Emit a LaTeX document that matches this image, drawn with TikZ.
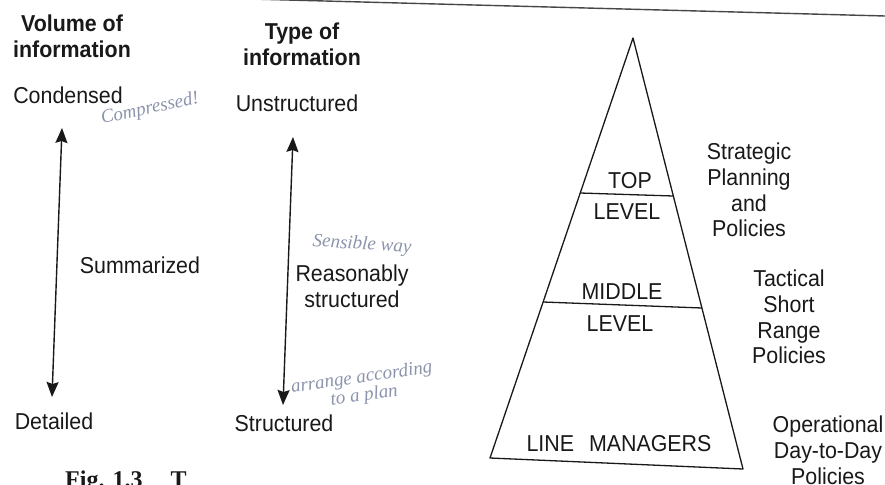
\documentclass[tikz,border=0pt]{standalone}
\usepackage{fontspec}
\setmainfont{Liberation Sans}[FakeStretch=0.93]
\newfontfamily\handfont{Liberation Serif}
\newfontfamily\capfont{Liberation Serif}
\usetikzlibrary{arrows.meta}
\definecolor{ink}{RGB}{25,25,25}
\definecolor{pencil}{RGB}{140,148,172}
\begin{document}
\begin{tikzpicture}[x=1pt,y=-1pt,
  txt/.style={font=\fontsize{23}{26}\selectfont, text=ink, align=center, inner sep=0pt, anchor=north},
  side/.style={txt, font=\fontsize{23}{25.7}\selectfont},
  head/.style={txt, font=\fontsize{23}{26}\selectfont\bfseries},
  hand/.style={font=\fontsize{19}{13}\handfont\itshape\selectfont, text=pencil, inner sep=0pt, align=center},
  dbl/.style={draw=ink, line width=1.4pt, {Stealth[length=15pt,width=12pt,inset=2pt]}-{Stealth[length=15pt,width=12pt,inset=2pt]}},
  edgeline/.style={draw=ink, line width=1.3pt, line join=round}]
\clip (0,0) rectangle (885,484);
\fill[white] (0,0) rectangle (885,484);

% top rule of the page
\coordinate (ruleA) at (250,-1);
\coordinate (ruleB) at (885,16);
\draw[ink!80, line width=1.4pt] (ruleA) -- (ruleB);

% left column
\node[head] (volh) at (72,15) {Volume of\\information};
\node[txt] (cond) at (68,87) {Condensed};
\node[txt] (summ) at (140,257) {Summarized};
\node[txt] (det) at (54,413) {Detailed};
\coordinate (la) at (62,128);
\coordinate (lb) at (52,397);
\draw[dbl] (la) -- (lb);

% middle column
\node[head] (typeh) at (302,23) {Type of\\information};
\node[txt] (unst) at (297,95) {Unstructured};
\node[txt] (reas) at (352,265) {Reasonably\\structured};
\node[txt] (stru) at (284,415) {Structured};
\coordinate (ra) at (293,137);
\coordinate (rb) at (283,405);
\draw[dbl] (ra) -- (rb);

% pyramid
\coordinate (apex) at (633,38);
\coordinate (t1) at (580,193);
\coordinate (t2) at (673,196);
\coordinate (m1) at (543,302);
\coordinate (m2) at (702,308);
\coordinate (bl) at (490,458);
\coordinate (br) at (743,469);
\draw[edgeline] (apex) -- (bl) -- (br) -- cycle;
\draw[edgeline] (t1) -- (t2);
\draw[edgeline] (m1) -- (m2);
\node[txt] (top) at (630,172) {TOP};
\node[txt] (lev1) at (627,203) {LEVEL};
\node[txt] (mid) at (622,283) {MIDDLE};
\node[txt] (lev2) at (620,315) {LEVEL};
\node[txt] (line) at (619,435) {LINE\hspace{9pt} MANAGERS};

% right labels
\node[side] (strat) at (749,143) {Strategic\\Planning\\and\\Policies};
\node[side] (tact) at (789,270) {Tactical\\Short\\Range\\Policies};
\node[side] (oper) at (828,416) {Operational\\Day-to-Day\\Policies};

% handwritten notes
\node[hand, rotate=12] (n1) at (150,109) {Compressed!};
\node[hand, rotate=-4] (n2) at (362,245) {Sensible way};
\node[hand, rotate=8] (n3) at (363,387) {arrange according\\to a plan};

% caption (cut off at the bottom)
\node[anchor=north west, inner sep=0pt, text=ink, font=\fontsize{24}{24}\capfont\bfseries\selectfont] (cap) at (65,471) {Fig. 1.3\hspace{28pt}T};
\end{tikzpicture}
\end{document}
